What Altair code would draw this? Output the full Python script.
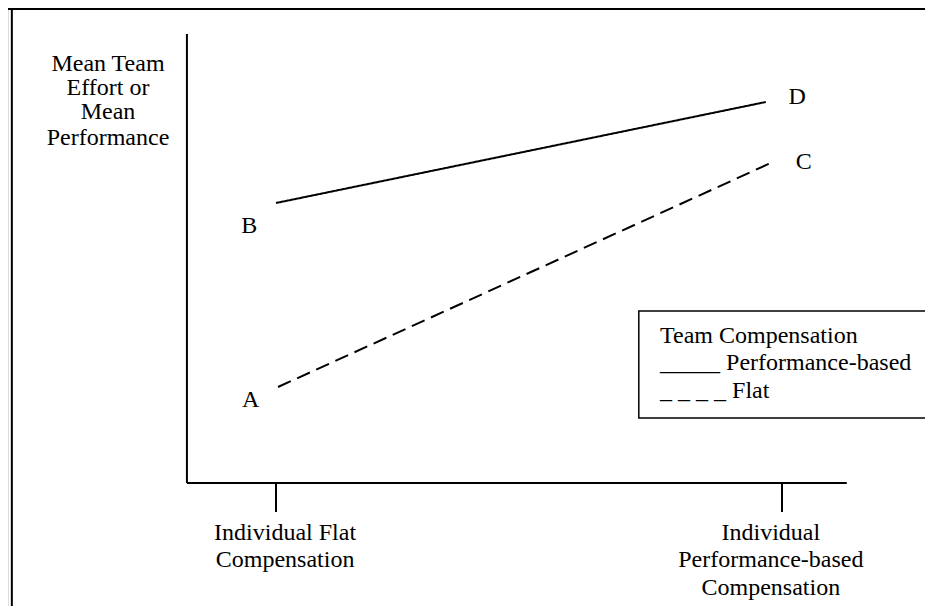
import altair as alt
import pandas as pd

FONT = "'Liberation Serif', 'Times New Roman', Times, 'DejaVu Serif', serif"
FS = 24

# ---- chart values (conceptual units) ----
x_levels = [1.0, 2.0]                       # Individual flat / performance-based
x_label_pos = [1.018, 1.978]
x_tick_labels = [["Individual Flat", "Compensation"],
                 ["Individual", "Performance-based", "Compensation"]]
line_x_perf = [1.0, 1.968]
line_x_flat = [1.004, 1.982]
perf_based_y = [7.0, 9.525]                 # B -> D
flat_y = [2.4, 8.025]                       # A -> C
point_labels = ["A", "B", "C", "D"]
point_x = [0.95, 0.947, 2.043, 2.03]
point_y = [2.08, 6.43, 8.025, 9.65]
y_title_lines = ["Mean Team", "Effort or", "Mean", "Performance"]
y_title_pos = [10.475, 9.875, 9.275, 8.625]
legend_title = "Team Compensation"
legend_items = ["_____ Performance-based", "_ _ _ _ Flat"]

X_DOMAIN = [0.4704, 2.2826]
Y_DOMAIN = [-3.075, 11.875]
W, H = 917, 598

xs = alt.Scale(domain=X_DOMAIN, nice=False, zero=False)
ys = alt.Scale(domain=Y_DOMAIN, nice=False, zero=False)

def X(f):
    return alt.X(f, type="quantitative", scale=xs, axis=None)

def Y(f):
    return alt.Y(f, type="quantitative", scale=ys, axis=None)

# lines
lines_df = pd.DataFrame({
    "x": line_x_perf + line_x_flat,
    "y": perf_based_y + flat_y,
    "series": ["Performance-based"] * 2 + ["Flat"] * 2,
})
lines = alt.Chart(lines_df).mark_line(color="black", strokeWidth=2).encode(
    x=X("x"), y=Y("y"),
    detail="series:N",
    strokeDash=alt.StrokeDash("series:N", legend=None,
                              scale=alt.Scale(domain=["Performance-based", "Flat"],
                                              range=[[1, 0], [14, 7]])),
)

# axes / frame segments
y_axis_x = 0.824
x_axis_end = 2.128
seg_df = pd.DataFrame({
    "x":  [y_axis_x, y_axis_x, x_levels[0], x_levels[1], X_DOMAIN[0], 0.478],
    "x2": [y_axis_x, x_axis_end, x_levels[0], x_levels[1], X_DOMAIN[1], 0.478],
    "y":  [0, 0, 0, 0, 11.85, Y_DOMAIN[1]],
    "y2": [11.225, 0, -0.725, -0.725, 11.85, Y_DOMAIN[0]],
})
segs = alt.Chart(seg_df).mark_rule(color="black", strokeWidth=2).encode(
    x=X("x"), x2="x2", y=Y("y"), y2="y2")

# point labels
pts_df = pd.DataFrame({"x": point_x, "y": point_y, "t": point_labels})
pts = alt.Chart(pts_df).mark_text(font=FONT, fontSize=FS, color="black",
                                  align="center", baseline="middle").encode(
    x=X("x"), y=Y("y"), text="t")

# y title
yt_df = pd.DataFrame({"x": [0.668] * 4, "y": y_title_pos, "t": y_title_lines})
yt = alt.Chart(yt_df).mark_text(font=FONT, fontSize=FS, color="black",
                                align="center", baseline="middle").encode(
    x=X("x"), y=Y("y"), text="t")

# x tick labels
xl_rows = []
for xv, labs in zip(x_label_pos, x_tick_labels):
    for i, lab in enumerate(labs):
        xl_rows.append({"x": xv, "y": -1.25 - 0.685 * i, "t": lab})
xl = alt.Chart(pd.DataFrame(xl_rows)).mark_text(
    font=FONT, fontSize=FS, color="black", align="center", baseline="middle").encode(
    x=X("x"), y=Y("y"), text="t")

# legend box
box_df = pd.DataFrame({"x": [1.717], "x2": [2.34], "y": [4.3], "y2": [1.625]})
box = alt.Chart(box_df).mark_rect(fill="white", stroke="black", strokeWidth=1.5).encode(
    x=X("x"), x2="x2", y=Y("y"), y2="y2")

leg_df = pd.DataFrame({"x": [1.759] * 3, "y": [3.675, 3.0, 2.3],
                       "t": [legend_title] + legend_items})
leg = alt.Chart(leg_df).mark_text(font=FONT, fontSize=FS, color="black",
                                  align="left", baseline="middle").encode(
    x=X("x"), y=Y("y"), text="t")

chart = alt.layer(segs, lines, box, leg, pts, yt, xl).properties(
    width=W, height=H,
    autosize=alt.AutoSizeParams(type="none"),
    padding=0,
).configure_view(stroke=None).configure(background="white")

chart.save("out.html", embed_options={"renderer": "svg", "actions": False})
